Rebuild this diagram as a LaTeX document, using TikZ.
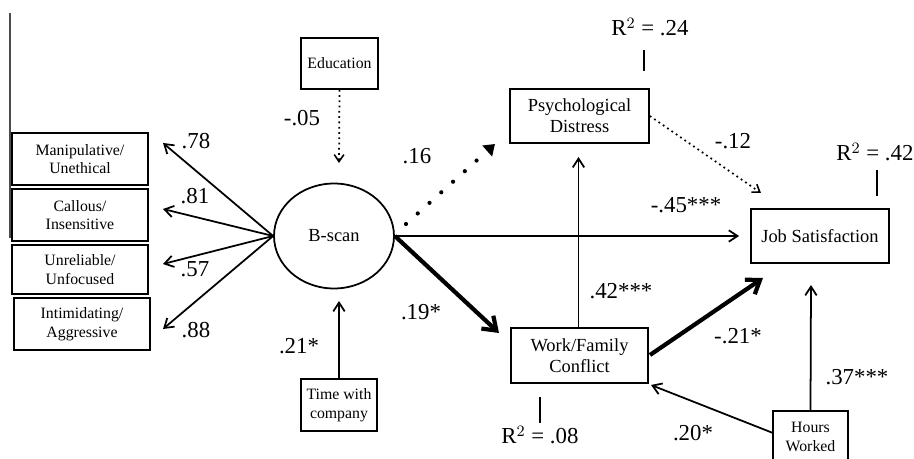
\documentclass[tikz,border=0pt]{standalone}
\usepackage{fontspec}
\setmainfont{Liberation Serif}
\usetikzlibrary{arrows.meta,shapes.geometric}

\begin{document}
\begin{tikzpicture}[x=0.02cm,y=-0.02cm,
    box/.style={draw,line width=1pt,align=center,inner sep=1pt,font=\fontsize{10.5}{12}\selectfont},
    smallbox/.style={box,font=\fontsize{9}{10.5}\selectfont},
    coef/.style={font=\fontsize{13}{15}\selectfont,inner sep=0pt},
    arr/.style={line width=1pt,-{Straight Barb[length=5pt,width=6.5pt,line width=1pt]}},
    fatarr/.style={line width=2.4pt,-{Straight Barb[length=7pt,width=10pt,line width=2.4pt]}},
    dotarr/.style={line width=1pt,dash pattern=on 1pt off 2pt,-{Straight Barb[length=4pt,width=5.5pt,line width=0.9pt]}},
    bigdotarr/.style={line width=2.4pt,line cap=round,dash pattern=on 0pt off 9pt,-{Triangle[length=6pt,width=8pt]}},
    rline/.style={line width=1pt}
  ]
    \useasboundingbox (0,0) rectangle (914,459);

    \draw[line width=0.6pt,black!70] (10,13) -- (10,238);

    \node[smallbox,minimum width=2.72cm,minimum height=1.04cm] (manip) at (80,159) {Manipulative/\\Unethical};
    \node[smallbox,minimum width=2.72cm,minimum height=1.04cm] (callous) at (80,215) {Callous/\\Insensitive};
    \node[smallbox,minimum width=2.72cm,minimum height=0.98cm] (unrel) at (80,269.5) {Unreliable/\\Unfocused};
    \node[smallbox,minimum width=2.72cm,minimum height=1.04cm] (intim) at (82,324) {Intimidating/\\Aggressive};

    \node[draw,ellipse,line width=1pt,inner sep=0pt,minimum width=2.4cm,minimum height=2.1cm,
      font=\fontsize{10.5}{12}\selectfont] (bscan) at (334,236) {B-scan};

    \node[smallbox,minimum width=1.54cm,minimum height=1.02cm] (educ) at (339.5,63.5) {Education};
    \node[smallbox,minimum width=1.52cm,minimum height=1.04cm] (timecomp) at (339,405) {Time with\\company};
    \node[box,minimum width=2.78cm,minimum height=1.08cm] (psych) at (579.5,116) {Psychological\\Distress};
    \node[box,minimum width=2.76cm,minimum height=1.08cm] (jobsat) at (820,236) {Job Satisfaction};
    \node[box,minimum width=2.74cm,minimum height=1.1cm] (wfc) at (579.5,355.5) {Work/Family\\Conflict};
    \node[smallbox,minimum width=1.5cm,minimum height=1.04cm] (hours) at (810.5,437) {Hours\\Worked};

    \coordinate (t78) at (163,143);
    \coordinate (t81) at (163,209);
    \coordinate (t57) at (163,264);
    \coordinate (t88) at (163,329);
    \coordinate (tedu) at (339,163);
    \coordinate (ttime) at (339,301);
    \coordinate (tpsy) at (495,144);
    \coordinate (tjob) at (761,193);
    \coordinate (twfc) at (499,333);
    \coordinate (tpsyb) at (578.5,157);
    \coordinate (tjobw) at (763,278);
    \coordinate (tjobs) at (811,285);
    \coordinate (twfcs) at (651,385);
    \coordinate (hw) at (773,433);
    \coordinate (wfe) at (650,355);

    \draw[arr] (bscan.west) -- (t78);
    \draw[arr] (bscan.west) -- (t81);
    \draw[arr] (bscan.west) -- (t57);
    \draw[arr] (bscan.west) -- (t88);

    \draw[dotarr] (educ.south) -- (tedu);
    \draw[arr] (timecomp.north) -- (ttime);
    \draw[bigdotarr] (406,224) -- (tpsy);
    \draw[dotarr] (psych.east) -- (tjob);
    \draw[arr,shorten >=11*0.02cm] (bscan.east) -- (bscan.east -| jobsat.west);
    \draw[fatarr] (bscan.east) -- (twfc);
    \draw[arr] (wfc.north -| tpsyb) -- (tpsyb);
    \draw[fatarr] (wfe) -- (tjobw);
    \draw[arr] (hours.north) -- (tjobs);
    \draw[arr] (hw) -- (twfcs);

    \draw[rline] (644,50) -- (644,71);
    \draw[rline] (877,170) -- (877,196);
    \draw[rline] (540,397) -- (540,423);
    \node[coef] (r2psy) at (650,27) {R$^2$ = .24};
    \node[coef] (r2job) at (875,152) {R$^2$ = .42};
    \node[coef] (r2wfc) at (540,435) {R$^2$ = .08};

    \node[coef] at (196,141) {.78};
    \node[coef] at (195,196) {.81};
    \node[coef] at (195,269) {.57};
    \node[coef] at (196,330) {.88};
    \node[coef] at (302,118) {-.05};
    \node[coef] at (417,156) {.16};
    \node[coef] at (299,346) {.21*};
    \node[coef] at (421,312) {.19*};
    \node[coef] at (733,141) {-.12};
    \node[coef] at (686,205) {-.45***};
    \node[coef] at (621,291) {.42***};
    \node[coef] at (738,336) {-.21*};
    \node[coef] at (857,377) {.37***};
    \node[coef] at (693,433) {.20*};
\end{tikzpicture}
\end{document}
